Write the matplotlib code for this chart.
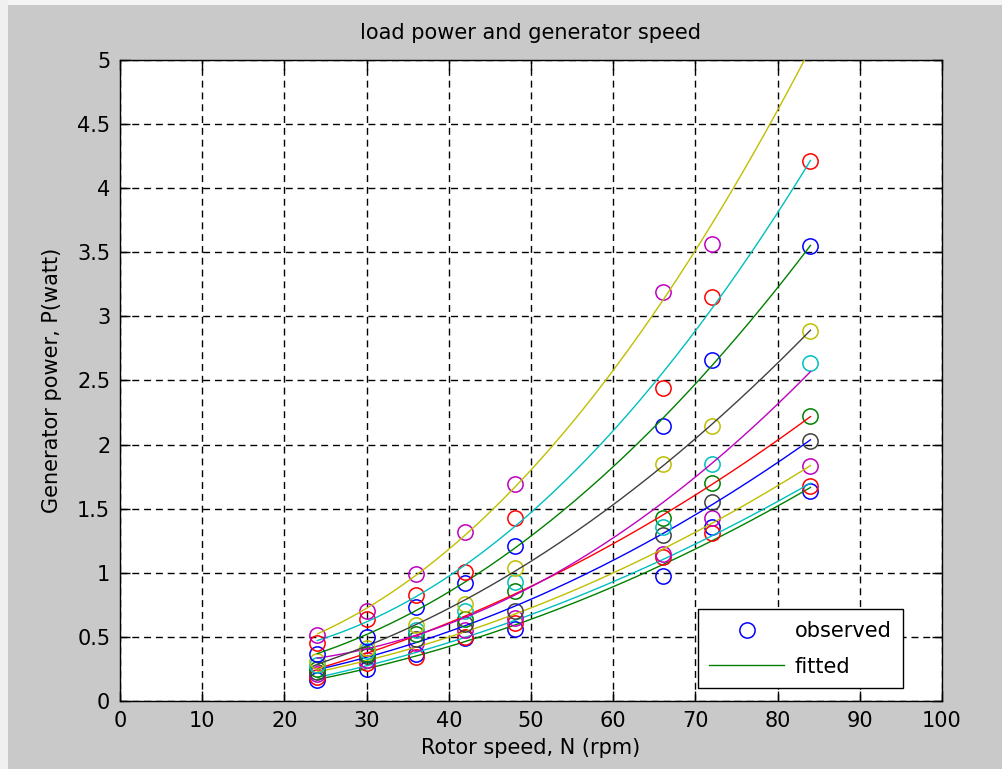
import numpy as np
import matplotlib
matplotlib.use("Agg")
import matplotlib.pyplot as plt
from matplotlib.patches import Rectangle

# ---- data ----
rpm = [24, 30, 36, 42, 48, 66, 72, 84]
p1 = [0.16, 0.25, 0.37, 0.49, 0.56, 0.975, 1.36, 1.64]
p2 = [0.19, 0.30, 0.34, 0.50, 0.61, 1.12, 1.31, 1.68]
p3 = [0.21, 0.32, 0.45, 0.55, 0.65, 1.15, 1.425, 1.83]
p4 = [0.23, 0.35, 0.48, 0.60, 0.70, 1.295, 1.555, 2.03]
p5 = [0.25, 0.37, 0.52, 0.64, 0.86, 1.425, 1.70, 2.22]
p6 = [0.28, 0.39, 0.55, 0.70, 0.93, 1.36, 1.85, 2.64]
p7 = [0.31, 0.41, 0.59, 0.76, 1.04, 1.85, 2.145, 2.89]
p8 = [0.37, 0.50, 0.73, 0.92, 1.21, 2.145, 2.66, 3.55]
p9 = [0.45, 0.64, 0.83, 1.01, 1.43, 2.44, 3.15, 4.21]
p10 = [0.515, 0.70, 0.99, 1.32, 1.69, 3.19, 3.565, 5.15]
series = [p1, p2, p3, p4, p5, p6, p7, p8, p9, p10]

xticks = [0, 10, 20, 30, 40, 50, 60, 70, 80, 90, 100]
yticks = [0, 0.5, 1, 1.5, 2, 2.5, 3, 3.5, 4, 4.5, 5]
ytick_labels = ["0", "0.5", "1", "1.5", "2", "2.5", "3", "3.5", "4", "4.5", "5"]

title = "load power and generator speed"
xlabel = "Rotor speed, N (rpm)"
ylabel = "Generator power, P(watt)"
legend_labels = ["observed", "fitted"]

# MATLAB classic color order
cycle = [(0, 0, 1), (0, 0.5, 0), (1, 0, 0), (0, 0.75, 0.75),
         (0.75, 0, 0.75), (0.75, 0.75, 0), (0.25, 0.25, 0.25)]

plt.rcParams['font.family'] = ['DejaVu Sans']
fs = 15

fig = plt.figure(figsize=(10.02, 7.69), dpi=100, facecolor='#c9c9c9')
# light border strips (top and left) as in the screenshot
fig.patches.append(Rectangle((0, 1 - 5 / 769), 1, 5 / 769, transform=fig.transFigure,
                             facecolor='#f4f4f4', edgecolor='none', zorder=0))
fig.patches.append(Rectangle((0, 0), 8 / 1002, 1, transform=fig.transFigure,
                             facecolor='#f0f0f0', edgecolor='none', zorder=0))

ax = fig.add_axes([120 / 1002, 1 - 701 / 769, 822 / 1002, 641 / 769])
ax.set_facecolor('white')

x = np.array(rpm, dtype=float)
xf = np.linspace(min(rpm), max(rpm), 200)
handles = []
for i, p in enumerate(series):
    oc = cycle[(2 * i) % 7]
    lc = cycle[(2 * i + 1) % 7]
    h1, = ax.plot(x, p, 'o', mfc='none', mec=oc, ms=11, mew=1.1, zorder=3)
    coef = np.polyfit(x, np.array(p), 2)
    h2, = ax.plot(xf, np.polyval(coef, xf), '-', color=lc, lw=1.0, zorder=3)
    if i == 0:
        handles = [h1, h2]

ax.set_xlim(0, 100)
ax.set_ylim(0, 5)
ax.set_xticks(xticks)
ax.set_xticklabels([str(t) for t in xticks])
ax.set_yticks(yticks)
ax.set_yticklabels(ytick_labels)
ax.tick_params(direction='in', length=7, width=1, top=True, right=True,
               labelsize=fs, pad=7, colors='black')
ax.grid(True, color='black', linestyle=(0, (5, 3.5)), linewidth=1.0)
ax.set_axisbelow(True)
for s in ax.spines.values():
    s.set_linewidth(1.0)
    s.set_color('black')

ax.set_title(title, fontsize=fs, pad=15)
ax.set_xlabel(xlabel, fontsize=fs, labelpad=5)
ax.set_ylabel(ylabel, fontsize=fs, labelpad=11)

leg = ax.legend(handles, legend_labels, loc='lower right',
                bbox_to_anchor=(0.9526, 0.0203), borderaxespad=0,
                fancybox=False, edgecolor='black', framealpha=1,
                fontsize=fs, handlelength=3.6, handletextpad=0.5,
                borderpad=0.55, labelspacing=0.75)
leg.get_frame().set_linewidth(1.0)

fig.savefig("out.png", dpi=100, facecolor=fig.get_facecolor())
